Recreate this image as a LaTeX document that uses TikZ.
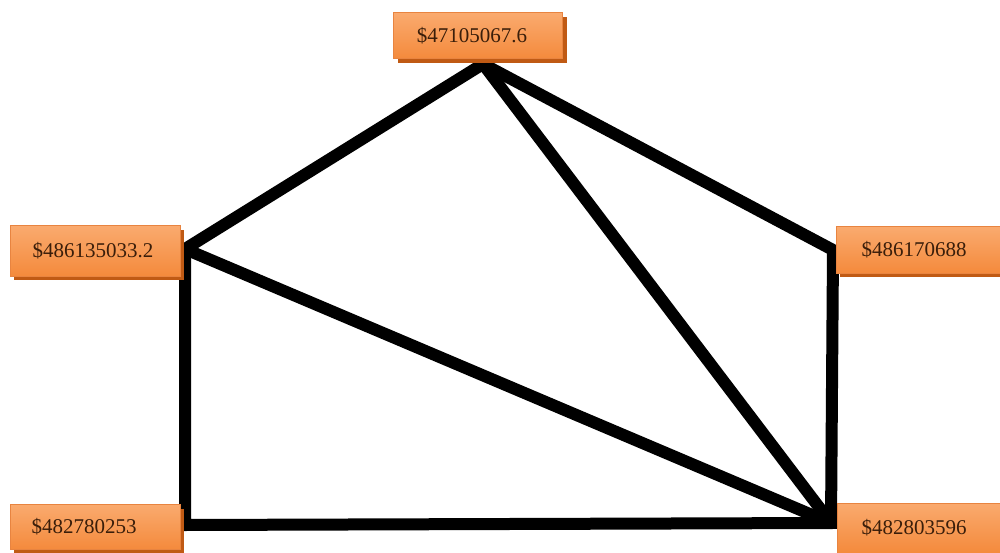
\documentclass[tikz,border=0pt]{standalone}
\usepackage{fontspec}
\setmainfont{Liberation Serif}
\usetikzlibrary{shadows}
\definecolor{boxtop}{HTML}{FAAA6E}
\definecolor{boxbot}{HTML}{F48A3C}
\definecolor{boxborder}{HTML}{E88440}
\definecolor{boxshadow}{HTML}{C05A14}
\definecolor{boxtext}{HTML}{3A1E0A}
\tikzset{
  valbox/.style={draw=boxborder, line width=1pt, top color=boxtop, bottom color=boxbot,
    minimum height=46pt, inner sep=0pt, text=boxtext, font=\fontsize{21}{25}\selectfont,
    drop shadow={shadow xshift=4pt, shadow yshift=-4pt, fill=boxshadow, opacity=1}},
  edge/.style={line width=12pt, line join=miter, draw=black}
}
\begin{document}
\begin{tikzpicture}[x=1pt,y=-1pt]
\useasboundingbox (0,0) rectangle (1000,553);
\begin{scope}
\clip (0,0) rectangle (1000,553);
\coordinate (T) at (483,64);
\coordinate (L) at (185,249);
\coordinate (R) at (833,250);
\coordinate (BR) at (831,523);
\coordinate (BL) at (185,525);
\draw[edge] (L) -- (T) -- (R) -- (BR) -- (BL) -- cycle;
\draw[edge] (T) -- (BR);
\draw[edge] (L) -- (BR);
\node[valbox, minimum width=169pt] (nT) at (478,36) {\$47105067.6\kern12pt};
\node[valbox, minimum width=170pt, minimum height=50pt] (nL) at (95,251) {\$486135033.2\kern4pt};
\node[valbox, minimum width=170pt] (nR) at (921,250) {\$486170688\kern14pt};
\node[valbox, minimum width=170pt, minimum height=45pt] (nBL) at (95,527) {\$482780253\kern22pt};
\node[valbox, minimum width=168pt, minimum height=50pt] (nBR) at (921,528) {\$482803596\kern14pt};
\end{scope}
\end{tikzpicture}
\end{document}
